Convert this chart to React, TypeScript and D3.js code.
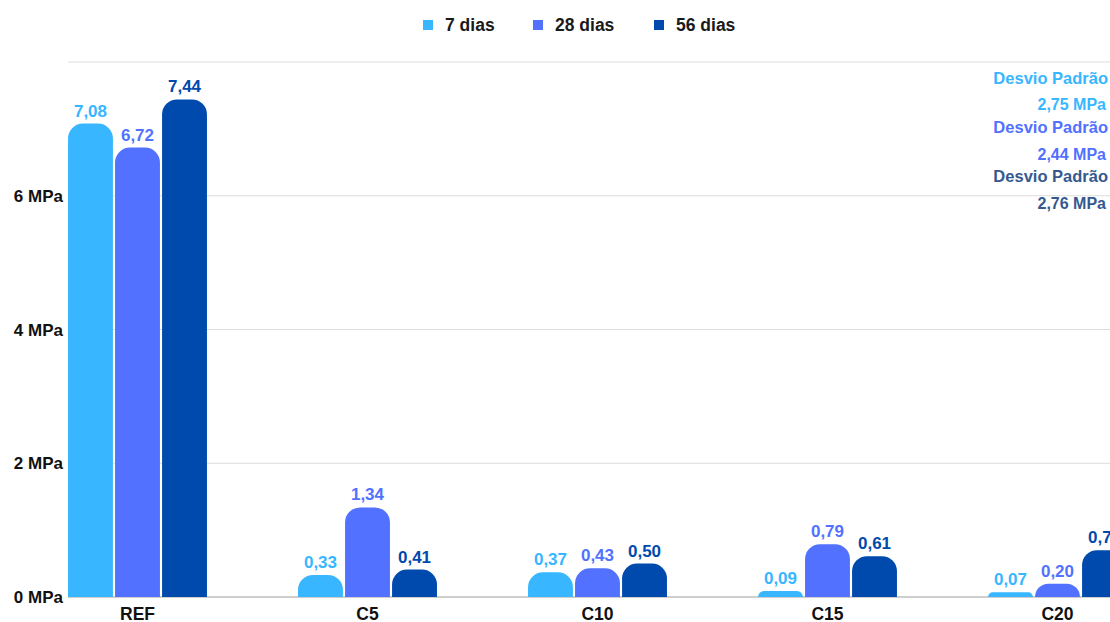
import React from "react";
import * as d3 from "d3";

const categories = ["REF", "C5", "C10", "C15", "C20"];
const seriesNames = ["7 dias", "28 dias", "56 dias"];
const values7 = [7.08, 0.33, 0.37, 0.09, 0.07];
const values28 = [6.72, 1.34, 0.43, 0.79, 0.2];
const values56 = [7.44, 0.41, 0.5, 0.61, 0.7];
const yTicks = [0, 2, 4, 6, 8];
const deviationLabels = ["2,75 MPa", "2,44 MPa", "2,76 MPa"];

const colors = ["#38b6ff", "#5271ff", "#004aad"];
const devColors = ["#38b6ff", "#5271ff", "#35598f"];

const W = 1110;
const H = 622;
const FONT = "'Liberation Sans', Arial, sans-serif";

function topRoundedBar(x: number, y: number, w: number, h: number, r: number) {
  const rr = Math.min(r, h, w / 2);
  const p = d3.path();
  const yb = y + h;
  p.moveTo(x, yb);
  p.lineTo(x, y + rr);
  p.arcTo(x, y, x + rr, y, rr);
  p.lineTo(x + w - rr, y);
  p.arcTo(x + w, y, x + w, y + rr, rr);
  p.lineTo(x + w, yb);
  p.closePath();
  return p.toString();
}

export default function App() {
  const series = [values7, values28, values56];
  const y = d3.scaleLinear().domain([0, 8]).range([597, 62]);
  const x0 = d3
    .scaleBand<string>()
    .domain(categories)
    .range([22.5, 1172.5])
    .paddingInner(0.396)
    .paddingOuter(0.198);
  const x1 = d3
    .scaleBand<string>()
    .domain(seriesNames)
    .range([0, x0.bandwidth()])
    .paddingInner(0.045);
  const fmt = (v: number) => v.toFixed(2).replace(".", ",");

  const legendX = [423, 533, 654];

  return (
    <svg
      width={W}
      height={H}
      style={{ position: "absolute", left: 0, top: 0, display: "block", background: "#fff" }}
      fontFamily={FONT}
    >
      {/* legend */}
      {seriesNames.map((s, i) => (
        <g key={s} transform={`translate(${legendX[i]},0)`}>
          <rect x={0} y={20} width={10} height={10} fill={colors[i]} />
          <text x={22} y={30.5} fontSize={17.5} fontWeight="bold" fill="#1a1a1a">
            {s}
          </text>
        </g>
      ))}

      {/* grid */}
      {yTicks.map((t) => (
        <g key={t}>
          <line
            x1={68}
            x2={W}
            y1={y(t)}
            y2={y(t)}
            stroke={t === 0 ? "#9e9e9e" : "#dcdcdc"}
            strokeWidth={1}
          />
          {t < 8 && (
            <text
              x={63}
              y={y(t) + 6}
              textAnchor="end"
              fontSize={17}
              fontWeight="bold"
              fill="#111"
            >
              {t} MPa
            </text>
          )}
        </g>
      ))}

      {/* bars */}
      {categories.map((c, ci) => (
        <g key={c} transform={`translate(${x0(c)},0)`}>
          {seriesNames.map((s, si) => {
            const v = series[si][ci];
            const bx = x1(s)!;
            const bw = x1.bandwidth();
            const top = y(v);
            const h = y(0) - top;
            return (
              <g key={s}>
                <path d={topRoundedBar(bx, top, bw, h, 15)} fill={colors[si]} />
                <text
                  x={bx + bw / 2}
                  y={top - 7}
                  textAnchor="middle"
                  fontSize={17}
                  fontWeight="bold"
                  fill={colors[si]}
                >
                  {fmt(v)}
                </text>
              </g>
            );
          })}
          <text
            x={x0.bandwidth() / 2}
            y={619.5}
            textAnchor="middle"
            fontSize={17.5}
            fontWeight="bold"
            fill="#111"
          >
            {c}
          </text>
        </g>
      ))}

      {/* deviation annotations */}
      {deviationLabels.map((d, i) => (
        <g key={d}>
          <text
            x={1108}
            y={84 + i * 49}
            textAnchor="end"
            fontSize={16.5}
            fontWeight="bold"
            fill={devColors[i]}
          >
            Desvio Padrão
          </text>
          <text
            x={1106}
            y={110 + i * 49.5}
            textAnchor="end"
            fontSize={16}
            fontWeight="bold"
            fill={devColors[i]}
          >
            {d}
          </text>
        </g>
      ))}
    </svg>
  );
}
